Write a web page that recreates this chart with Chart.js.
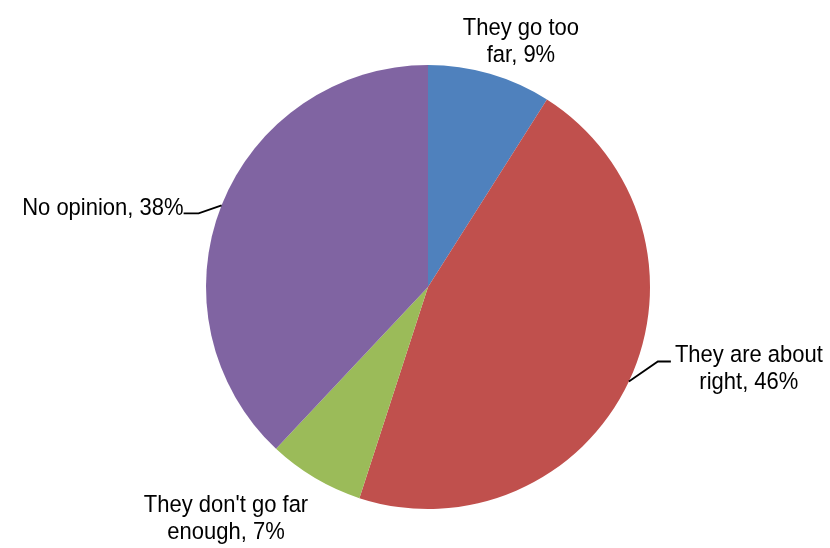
<!DOCTYPE html>
<html>
<head>
<meta charset="utf-8">
<script src="https://cdn.jsdelivr.net/npm/chart.js@4/dist/chart.umd.min.js"></script>
<style>
  html, body { margin: 0; padding: 0; background: #ffffff; }
  #wrap { width: 830px; height: 548px; position: relative; }
</style>
</head>
<body>
<div id="wrap"><canvas id="c" width="830" height="548"></canvas></div>
<script>
// ---- data ----
const categories = ["They go too far", "They are about right", "They don't go far enough", "No opinion"];
const values = [9, 46, 7, 38];
const labelLines = [
  ["They go too", "far, 9%"],
  ["They are about", "right, 46%"],
  ["They don't go far", "enough, 7%"],
  ["No opinion, 38%"]
];
const colors = ["#4F81BD", "#C0504D", "#9BBB59", "#8064A2"];

// ---- label placement (style, relative to the slice's outer mid point) ----
const labelStyle = [
  { dx: 31, dy: -39, align: "center", leader: null },
  { dx: 120, dy: -20, align: "center", leader: [[29, -20], [42, -20]] },
  { dx: -89, dy: 34, align: "center", leader: null },
  { dx: -38, dy: 10, align: "right", leader: [[-23, 8], [-38, 8]] }
];

const labelPlugin = {
  id: "pieLabels",
  afterDraw(chart) {
    const ctx = chart.ctx;
    const meta = chart.getDatasetMeta(0);
    ctx.save();
    ctx.font = "22px 'Liberation Sans', Arial, sans-serif";
    ctx.fillStyle = "#000000";
    ctx.strokeStyle = "#000000";
    ctx.lineWidth = 1.8;
    meta.data.forEach((arc, i) => {
      const p = arc.getProps(["x", "y", "startAngle", "endAngle", "outerRadius"], true);
      const mid = (p.startAngle + p.endAngle) / 2;
      const ax = p.x + Math.cos(mid) * p.outerRadius;
      const ay = p.y + Math.sin(mid) * p.outerRadius;
      const st = labelStyle[i];
      if (st.leader) {
        ctx.beginPath();
        ctx.moveTo(ax, ay);
        st.leader.forEach(pt => ctx.lineTo(ax + pt[0], ay + pt[1]));
        ctx.stroke();
      }
      ctx.textAlign = st.align;
      ctx.textBaseline = "alphabetic";
      labelLines[i].forEach((line, j) => {
        const tx = ax + st.dx;
        const ty = ay + st.dy + j * 27;
        ctx.save();
        ctx.translate(tx, ty);
        ctx.scale(1, 1.08);
        ctx.fillText(line, 0, 0);
        ctx.restore();
      });
    });
    ctx.restore();
  }
};

new Chart(document.getElementById("c"), {
  type: "pie",
  data: {
    labels: categories,
    datasets: [{
      data: values,
      backgroundColor: colors,
      borderWidth: 0
    }]
  },
  options: {
    responsive: false,
    animation: false,
    layout: { padding: { top: 65, bottom: 39, left: 206, right: 180 } },
    plugins: {
      legend: { display: false },
      tooltip: { enabled: false }
    }
  },
  plugins: [labelPlugin]
});
</script>
</body>
</html>
